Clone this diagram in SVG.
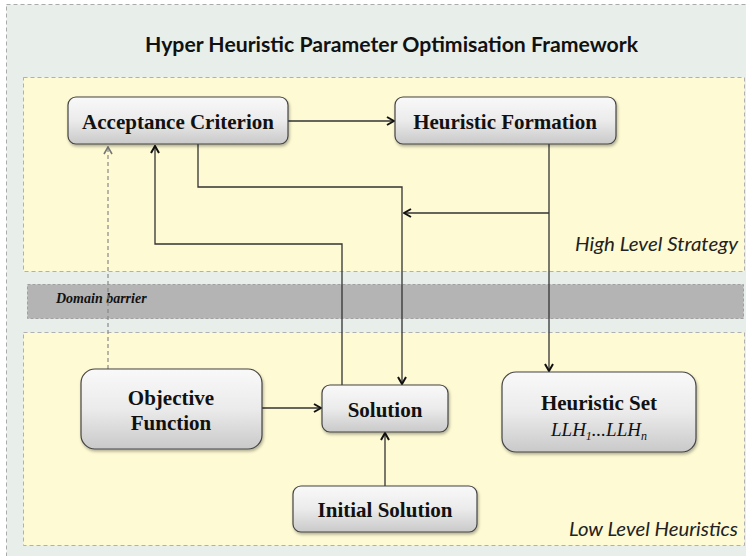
<svg xmlns="http://www.w3.org/2000/svg" width="746" height="556" viewBox="0 0 746 556">
  <defs>
    <linearGradient id="boxFill" x1="0" y1="0" x2="0" y2="1">
      <stop offset="0" stop-color="#f9f9f9"/>
      <stop offset="0.5" stop-color="#ebebeb"/>
      <stop offset="1" stop-color="#c9c9c9"/>
    </linearGradient>
    <filter id="shadow" x="-10%" y="-10%" width="130%" height="140%">
      <feDropShadow dx="1" dy="2" stdDeviation="1.5" flood-color="#000" flood-opacity="0.3"/>
    </filter>
    <marker id="arrow" viewBox="0 0 10 10" refX="9" refY="5" markerWidth="10" markerHeight="10" markerUnits="userSpaceOnUse" orient="auto">
      <path d="M2,1 L9,5 L2,9" fill="none" stroke="#111" stroke-width="2"/>
    </marker>
    <marker id="arrowGrey" viewBox="0 0 10 10" refX="9" refY="5" markerWidth="10" markerHeight="10" markerUnits="userSpaceOnUse" orient="auto">
      <path d="M2,1 L9,5 L2,9" fill="none" stroke="#777" stroke-width="1.6"/>
    </marker>
  </defs>
  <style>
    .frame { fill: #e8efeb; stroke: #aaaaaa; stroke-width: 1; stroke-dasharray: 4 3; }
    .zone { fill: #fefad3; stroke: #b0b0b0; stroke-width: 1; stroke-dasharray: 4 3; }
    .barrier { fill: #b4b4b4; stroke: #a0a0a0; stroke-width: 1; stroke-dasharray: 3 2; }
    .box { fill: url(#boxFill); stroke: #444; stroke-width: 1.2; filter: url(#shadow); }
    .lbl { font-family: "Liberation Serif", "Times New Roman", serif; font-weight: bold; font-size: 21px; fill: #111; text-anchor: middle; }
    .sub { font-family: "Liberation Serif", "Times New Roman", serif; font-style: italic; font-size: 19px; fill: #111; }
    .title { font-family: Lato, "Open Sans", sans-serif; font-weight: bold; font-size: 21px; fill: #111; }
    .zoneLbl { font-family: Lato, "Open Sans", sans-serif; font-style: italic; font-size: 19px; fill: #222; text-anchor: end; }
    .wire { fill: none; stroke: #333; stroke-width: 1.3; }
    .wireDash { fill: none; stroke: #888; stroke-width: 1.2; stroke-dasharray: 4 3; }
  </style>

  <!-- framework container and its two strategy layers -->
  <rect class="frame" x="6.5" y="4.5" width="760" height="580"/>
  <text class="title" x="145" y="52" textLength="493" lengthAdjust="spacingAndGlyphs">Hyper Heuristic Parameter Optimisation Framework</text>

  <rect class="zone" x="23.5" y="77.5" width="721" height="194"/>
  <text class="zoneLbl" x="738" y="251" textLength="163" lengthAdjust="spacingAndGlyphs">High Level Strategy</text>

  <rect class="barrier" x="27.5" y="284.5" width="716" height="34"/>
  <text x="56" y="303" font-family="Liberation Serif, serif" font-weight="bold" font-style="italic" font-size="14" fill="#111">Domain barrier</text>

  <rect class="zone" x="23.5" y="332.5" width="721" height="213"/>
  <text class="zoneLbl" x="738" y="536" textLength="169" lengthAdjust="spacingAndGlyphs">Low Level Heuristics</text>

  <!-- connectors -->
  <g id="connectors">
    <path class="wireDash" d="M108,369 V147" marker-end="url(#arrowGrey)"/>
    <path class="wire" d="M288,121 H394" marker-end="url(#arrow)"/>
    <path class="wire" d="M198,144 V187 H402 V384" marker-end="url(#arrow)"/>
    <path class="wire" d="M549,144 V371" marker-end="url(#arrow)"/>
    <path class="wire" d="M549,213 H404" marker-end="url(#arrow)"/>
    <path class="wire" d="M342,385 V244 H155 V146" marker-end="url(#arrow)"/>
    <path class="wire" d="M262,408 H321" marker-end="url(#arrow)"/>
    <path class="wire" d="M385,486 V433" marker-end="url(#arrow)"/>
  </g>

  <!-- nodes -->
  <g id="acceptance-criterion">
    <rect class="box" x="68" y="97" width="220" height="47" rx="8"/>
    <text class="lbl" x="178" y="129">Acceptance Criterion</text>
  </g>
  <g id="heuristic-formation">
    <rect class="box" x="395" y="97" width="221" height="47" rx="8"/>
    <text class="lbl" x="505" y="129">Heuristic Formation</text>
  </g>
  <g id="objective-function">
    <rect class="box" x="81" y="369" width="181" height="80" rx="14"/>
    <text class="lbl" x="171" y="405">Objective</text>
    <text class="lbl" x="171" y="430">Function</text>
  </g>
  <g id="solution">
    <rect class="box" x="322" y="385" width="126" height="47" rx="8"/>
    <text class="lbl" x="385" y="417">Solution</text>
  </g>
  <g id="initial-solution">
    <rect class="box" x="293" y="486" width="184" height="46" rx="8"/>
    <text class="lbl" x="385" y="517">Initial Solution</text>
  </g>
  <g id="heuristic-set">
    <rect class="box" x="502" y="372" width="194" height="80" rx="14"/>
    <text class="lbl" x="599" y="410">Heuristic Set</text>
    <text class="sub" x="551" y="436">LLH<tspan font-size="12" dy="4">1</tspan><tspan dy="-4">...LLH</tspan><tspan font-size="12" dy="4">n</tspan></text>
  </g>
</svg>
